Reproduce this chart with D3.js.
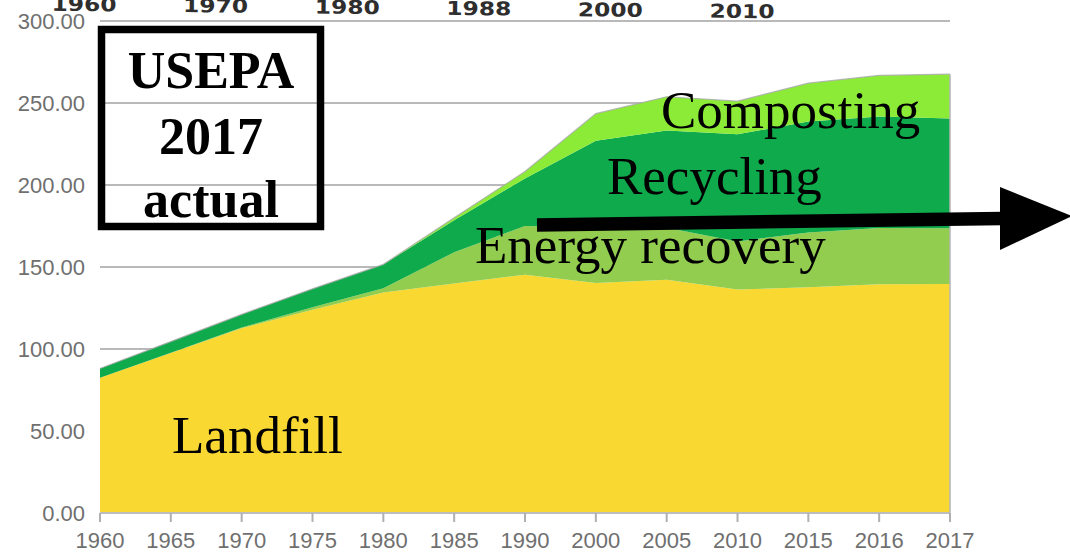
<!DOCTYPE html>
<html><head><meta charset="utf-8">
<script src="https://cdn.jsdelivr.net/npm/d3@7"></script>
<style>html,body{margin:0;padding:0;background:#fff;}svg{display:block;}</style>
</head><body>
<svg id="c" width="1070" height="554"></svg>
<script>
// ---- data ----
const years = ["1960","1965","1970","1975","1980","1985","1990","2000","2005","2010","2015","2016","2017"];
const landfill   = [82.5, 97.5, 112.7, 124.0, 134.4, 140.0, 145.3, 140.3, 142.3, 136.3, 137.6, 139.5, 139.6];
const energy     = [0.0, 0.2, 0.4, 1.5, 2.7, 19.0, 29.7, 33.7, 31.7, 29.3, 33.5, 34.3, 34.0];
const recycling  = [5.6, 6.8, 8.0, 11.2, 14.5, 19.5, 29.0, 53.0, 59.2, 65.3, 67.6, 68.0, 67.0];
const composting = [0.0, 0.0, 0.0, 0.0, 0.0, 1.5, 4.2, 16.5, 20.6, 20.2, 23.4, 25.0, 27.0];
const seriesNames = ["Landfill","Energy recovery","Recycling","Composting"];
const yTicks = [0, 50, 100, 150, 200, 250, 300];
const topAxisYears  = [1960, 1970, 1980, 1990, 2000, 2010];
const topAxisLabels = ["1960","1970","1980","1988","2000","2010"];
const boxLines = ["USEPA","2017","actual"];

// ---- chart ----
const svg = d3.select("#c");
const colors = {"Landfill":"#f8d831","Energy recovery":"#92cd50","Recycling":"#0eaa4b","Composting":"#8ceb37"};
const x = d3.scalePoint().domain(years).range([100, 950]);
const y = d3.scaleLinear().domain([0, 300]).range([513, 21]);

const table = years.map((yr, i) => ({year: yr, "Landfill": landfill[i], "Energy recovery": energy[i], "Recycling": recycling[i], "Composting": composting[i]}));
const stacked = d3.stack().keys(seriesNames)(table);

// gridlines
svg.append("g").selectAll("line").data(yTicks.filter(d => d > 0)).join("line")
  .attr("x1", 100).attr("x2", 950)
  .attr("y1", d => y(d)).attr("y2", d => y(d))
  .attr("stroke", "#b9b9b9").attr("stroke-width", 2);

// y labels
svg.append("g").selectAll("text").data(yTicks).join("text")
  .attr("x", 85).attr("y", d => y(d) + 8)
  .attr("text-anchor", "end")
  .attr("font-family", "Liberation Sans, Arial, sans-serif")
  .attr("font-size", 22).attr("fill", "#6f6f6f")
  .text(d => d3.format(".2f")(d));

// areas
const area = d3.area().x(d => x(d.data.year)).y0(d => y(d[0])).y1(d => y(d[1]));
svg.append("g").selectAll("path").data(stacked).join("path")
  .attr("d", area).attr("fill", d => colors[d.key]);

// outline of top + right edge
const topLine = d3.line().x(d => x(d.data.year)).y(d => y(d[1]));
const last = stacked[stacked.length - 1];
svg.append("path").attr("d", topLine(last))
  .attr("fill", "none").attr("stroke", "#a8a8a8").attr("stroke-width", 1.2).attr("opacity", 0.8);
svg.append("line").attr("x1", x("2017")).attr("x2", x("2017"))
  .attr("y1", y(last[last.length - 1][1])).attr("y2", y(0))
  .attr("stroke", "#b5b5b5").attr("stroke-width", 1.5);

// x axis
const xa = svg.append("g");
xa.append("line").attr("x1", 100).attr("x2", 950).attr("y1", y(0)).attr("y2", y(0))
  .attr("stroke", "#bdbdbd").attr("stroke-width", 2);
xa.selectAll("line.t").data(years).join("line").attr("class", "t")
  .attr("x1", d => x(d)).attr("x2", d => x(d)).attr("y1", y(0)).attr("y2", y(0) + 9)
  .attr("stroke", "#b0b0b0").attr("stroke-width", 2);
xa.selectAll("text").data(years).join("text")
  .attr("x", d => x(d)).attr("y", 548).attr("text-anchor", "middle")
  .attr("font-family", "Liberation Sans, Arial, sans-serif")
  .attr("font-size", 22).attr("fill", "#6f6f6f").text(d => d);

// top (overlay) axis labels
const xTop = d3.scaleLinear().domain([1960, 2010]).range([84, 742]);
const tg = svg.append("g").attr("transform", "rotate(0.6, 84, 11)");
tg.selectAll("text").data(topAxisYears).join("text")
  .attr("x", d => xTop(d)).attr("y", 11).attr("text-anchor", "middle")
  .attr("font-family", "DejaVu Sans, sans-serif").attr("font-weight", "bold")
  .attr("font-size", 19).attr("fill", "#2e2e2e")
  .attr("textLength", 65).attr("lengthAdjust", "spacingAndGlyphs")
  .text((d, i) => topAxisLabels[i]);

// annotation box
svg.append("rect").attr("x", 101.5).attr("y", 29.5).attr("width", 219).attr("height", 197)
  .attr("fill", "none").attr("stroke", "#000").attr("stroke-width", 7.5);
svg.append("g").selectAll("text").data(boxLines).join("text")
  .attr("x", 211).attr("y", (d, i) => [88, 154, 217][i]).attr("text-anchor", "middle")
  .attr("font-family", "Liberation Serif, Times New Roman, serif").attr("font-weight", "bold")
  .attr("font-size", 52).attr("fill", "#000").text(d => d);

// series labels
const labelPos = {"Composting": [661, 128], "Recycling": [607, 194], "Energy recovery": [475, 263], "Landfill": [172, 453]};
svg.append("g").selectAll("text").data(seriesNames).join("text")
  .attr("x", d => labelPos[d][0]).attr("y", d => labelPos[d][1])
  .attr("font-family", "Liberation Serif, Times New Roman, serif")
  .attr("font-size", 53).attr("fill", "#000").text(d => d);

// arrow
svg.append("line").attr("x1", 537).attr("y1", 225).attr("x2", 1002).attr("y2", 218.5)
  .attr("stroke", "#000").attr("stroke-width", 13.5);
svg.append("path").attr("d", "M1000,187 L1072,216 L1000,250 Z").attr("fill", "#000");
</script>
</body></html>
